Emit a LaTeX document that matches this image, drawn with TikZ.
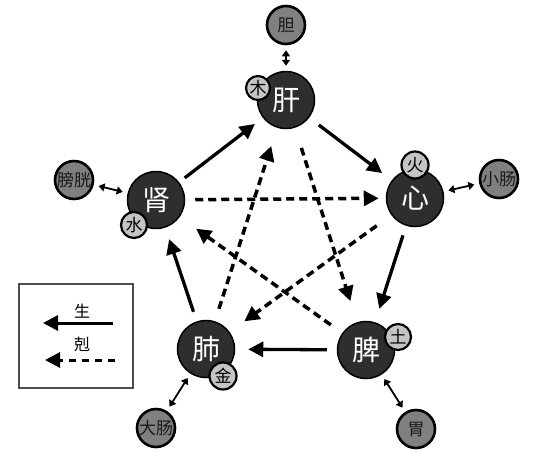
\documentclass[tikz,border=0pt]{standalone}
\usepackage{fontspec}
\newfontfamily\cjk{Noto Sans CJK SC}
\usepackage{xcolor}
\usetikzlibrary{arrows.meta}
\tikzset{
  zang/.style={circle, draw=black, fill=black!82, line width=1.5pt,
               minimum size=57pt, inner sep=0pt, text=white,
               font=\cjk\fontsize{28}{28}\selectfont},
  xing/.style={circle, draw=black, fill=black!23, line width=2.2pt,
               minimum size=#1, inner sep=0pt,
               font=\cjk\fontsize{17}{17}\selectfont},
  xing/.default=26pt,
  fu/.style={circle, draw=black, fill=black!50, line width=2.6pt,
             minimum size=38pt, inner sep=0pt, text=black!90,
             font=\cjk\fontsize{17}{17}\selectfont},
  sheng/.style={-{Triangle[length=15pt,width=15pt]}, line width=3.3pt},
  ke/.style={-{Triangle[length=15pt,width=15pt]}, line width=3.5pt,
             dash pattern=on 8pt off 5pt},
  link/.style={{Triangle[length=6pt,width=8pt]}-{Triangle[length=6pt,width=8pt]},
               line width=1.8pt, shorten <=5pt, shorten >=5pt},
  keytext/.style={font=\cjk\fontsize{16}{16}\selectfont},
}

\begin{document}
\begin{tikzpicture}[x=1pt, y=-1pt]
  \useasboundingbox (0,0) rectangle (545,451);
  % five zang
  \node[zang] (gan)  at (286,100) {肝};
  \node[zang] (xin)  at (415,198) {心};
  \node[zang] (pi)   at (366,350) {脾};
  \node[zang] (fei)  at (206,349) {肺};
  \node[zang] (shen) at (156,200) {肾};
  % elements
  \node[xing=24pt] (mu) at (258,88) {木};
  \node[xing=27pt] (huo) at (415,165) {火};
  \node[xing] (tu)   at (398,337) {土};
  \node[xing=27pt] (jin) at (223,376) {金};
  \node[xing] (shui) at (134,225) {水};
  % fu
  \node[fu] (dan)       at (286,25)  {胆};
  \node[fu] (xiaochang) at (499,179) {小肠};
  \node[fu] (wei)       at (416,429) {胃};
  \node[fu] (dachang)   at (156,428) {大肠};
  \node[fu] (pangguang) at (74,180)  {膀胱};
  % zang -- fu
  \draw[link] (dan) -- (gan);
  \draw[link] (xin) -- (xiaochang);
  \draw[link] (pi) -- (wei);
  \draw[link] (fei) -- (dachang);
  \draw[link] (shen) -- (pangguang);
  % sheng cycle
  \draw[sheng, shorten <=12pt, shorten >=12pt] (gan) -- (xin);
  \draw[sheng, shorten <=10pt, shorten >=14pt] (xin) -- (pi);
  \draw[sheng, shorten <=10pt, shorten >=13pt] (pi) -- (fei);
  \draw[sheng, shorten <=10pt, shorten >=12pt] (fei) -- (shen);
  \draw[sheng, shorten <=7pt, shorten >=10pt] (shen) -- (gan);
  % ke cycle
  \draw[ke, shorten <=10pt, shorten >=7pt] (shen) -- (xin);
  \draw[ke, shorten <=18pt, shorten >=18pt] (xin) -- (fei);
  \draw[ke, shorten <=13pt, shorten >=19pt] (fei) -- (gan);
  \draw[ke, shorten <=21pt, shorten >=22pt] (gan) -- (pi);
  \draw[ke, shorten <=14pt, shorten >=20pt] (pi) -- (shen);
  % legend
  \node[draw=black!70, line width=1.2pt, minimum width=114pt, minimum height=104pt,
        inner sep=0pt] (key) at (76,336) {};
  \node[keytext] (shenglbl) at (82,311) {生};
  \node[keytext] (kelbl) at (82,344) {剋};
  \coordinate (s0) at (113,323);
  \coordinate (s1) at (43,323);
  \coordinate (k0) at (115,360);
  \coordinate (k1) at (45,360);
  \draw[sheng, line width=3pt] (s0) -- (s1);
  \draw[ke, line width=3pt, dash pattern=on 7pt off 6pt] (k0) -- (k1);
\end{tikzpicture}
\end{document}
